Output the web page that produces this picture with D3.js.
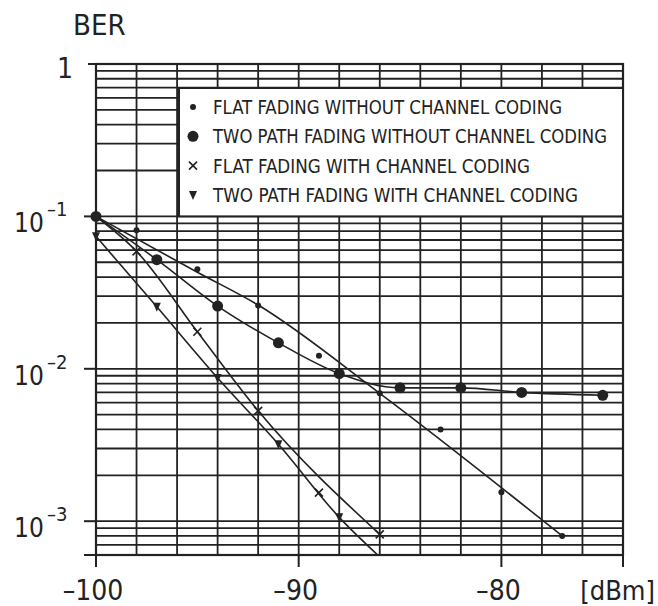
<!DOCTYPE html>
<html>
<head>
<meta charset="utf-8">
<script src="https://cdn.jsdelivr.net/npm/d3@7"></script>
<style>
  body { margin: 0; background: #fff; }
  text { font-family: "DejaVu Sans", sans-serif; font-stretch: condensed; fill: #222; }
</style>
</head>
<body>
<svg id="chart" width="658" height="606"></svg>
<script>
// received level [dBm] and BER (markers)
var flatX = [-98, -95, -92, -89, -86, -83, -80, -77];
var flatBer = [0.081, 0.045, 0.026, 0.0122, 0.0069, 0.0040, 0.00155, 0.0008];

var twoPathX = [-100, -97, -94, -91, -88, -85, -82, -79, -75];
var twoPathBer = [0.1, 0.052, 0.0258, 0.0148, 0.0093, 0.0075, 0.0075, 0.0070, 0.0067];

var flatCodedX = [-98, -95, -92, -89, -86];
var flatCodedBer = [0.059, 0.0175, 0.0053, 0.00154, 0.00082];

var twoPathCodedX = [-100, -97, -94, -91, -88];
var twoPathCodedBer = [0.074, 0.0255, 0.0087, 0.0032, 0.00106];

// hand drawn fit lines
var flatCurveX = [-100, -95, -92, -86, -77];
var flatCurveBer = [0.1, 0.043, 0.0262, 0.0069, 0.0008];
var flatCodedCurveX = [-100, -98, -95, -92, -86];
var flatCodedCurveBer = [0.1, 0.059, 0.0175, 0.0053, 0.00082];
var twoPathCodedCurveX = [-100, -97, -94, -91, -88, -86.1];
var twoPathCodedCurveBer = [0.074, 0.0255, 0.0087, 0.0032, 0.00106, 0.0006];

var legendLabels = [
  "FLAT FADING WITHOUT CHANNEL CODING",
  "TWO PATH FADING WITHOUT CHANNEL CODING",
  "FLAT FADING WITH CHANNEL CODING",
  "TWO PATH FADING WITH CHANNEL CODING"
];
var legendWidths = [349, 394, 317, 365];
var xTicks = [-100, -90, -80];
var yDecades = [-1, -2, -3];

var ink = "#222";
var x = d3.scaleLinear().domain([-100, -74]).range([96, 623]);
var y = d3.scaleLog().domain([6e-4, 1]).range([555, 64]);
var x0 = x(-100), x1 = x(-74), y0 = y(6e-4), y1 = y(1);

var svg = d3.select("#chart");

// grid
var yGrid = [];
[-4, -3, -2, -1].forEach(function(k) {
  for (var m = 1; m < 10; m++) {
    var v = m * Math.pow(10, k);
    if (v > 5.9e-4 && v < 0.99) yGrid.push(v);
  }
});
svg.append("g").selectAll("line").data(yGrid).enter().append("line")
  .attr("x1", x0).attr("x2", x1)
  .attr("y1", function(d) { return y(d); }).attr("y2", function(d) { return y(d); })
  .attr("stroke", ink).attr("stroke-width", 1.8);
svg.append("g").selectAll("line").data(d3.range(-98, -74, 2)).enter().append("line")
  .attr("y1", y0).attr("y2", y1)
  .attr("x1", function(d) { return x(d); }).attr("x2", function(d) { return x(d); })
  .attr("stroke", ink).attr("stroke-width", 1.8);

// frame and ticks
svg.append("rect").attr("x", x0).attr("y", y1).attr("width", x1 - x0).attr("height", y0 - y1)
  .attr("fill", "none").attr("stroke", ink).attr("stroke-width", 2.2);
svg.append("g").selectAll("line").data([1, 0.1, 0.01, 0.001, 6e-4]).enter().append("line")
  .attr("x1", function(d) { return d === 1 ? x0 - 8 : x0 - 12; }).attr("x2", x0)
  .attr("y1", function(d) { return y(d); }).attr("y2", function(d) { return y(d); })
  .attr("stroke", ink).attr("stroke-width", 2);
svg.append("g").selectAll("line").data(xTicks.concat([-74])).enter().append("line")
  .attr("x1", function(d) { return x(d); }).attr("x2", function(d) { return x(d); })
  .attr("y1", y0).attr("y2", y0 + 12)
  .attr("stroke", ink).attr("stroke-width", 2);

// axis labels
svg.append("text").attr("x", 73).attr("y", 35).style("font-size", "29px").text("BER");
svg.append("text").attr("x", 73).attr("y", y(1) + 14).attr("text-anchor", "end")
  .style("font-size", "28px").text("1");
yDecades.forEach(function(k) {
  var ty = y(Math.pow(10, k));
  svg.append("text").attr("x", 14).attr("y", ty + 16).style("font-size", "26px").text("10");
  svg.append("text").attr("x", 47).attr("y", ty).style("font-size", "20px").text("\u2013" + (-k));
});
svg.append("g").selectAll("text").data(xTicks).enter().append("text")
  .attr("x", function(d) { return x(d) - 3; }).attr("y", 600)
  .attr("text-anchor", "middle").style("font-size", "28px")
  .text(function(d) { return "\u2013" + (-d); });
svg.append("text").attr("x", 655).attr("y", 600).attr("text-anchor", "end")
  .style("font-size", "27px").text("[dBm]");

// curves
svg.append("clipPath").attr("id", "plot").append("rect")
  .attr("x", x0).attr("y", y1).attr("width", x1 - x0).attr("height", y0 - y1);
var line = d3.line().x(function(d) { return x(d[0]); }).y(function(d) { return y(d[1]); })
  .curve(d3.curveMonotoneX);
var curves = [
  d3.zip(flatCurveX, flatCurveBer),
  d3.zip(twoPathX, twoPathBer),
  d3.zip(flatCodedCurveX, flatCodedCurveBer),
  d3.zip(twoPathCodedCurveX, twoPathCodedCurveBer)
];
svg.append("g").attr("clip-path", "url(#plot)").selectAll("path").data(curves).enter().append("path")
  .attr("d", line).attr("fill", "none").attr("stroke", ink).attr("stroke-width", 1.6);

// markers
function marker(g, kind) {
  if (kind === 0) g.append("circle").attr("r", 3).attr("fill", ink);
  if (kind === 1) g.append("circle").attr("r", 5.5).attr("fill", ink);
  if (kind === 2) g.append("path").attr("d", "M-4,-4L4,4M-4,4L4,-4")
    .attr("stroke", ink).attr("stroke-width", 1.6).attr("fill", "none");
  if (kind === 3) g.append("path").attr("d", "M-4,-4L4,-4L0,5Z").attr("fill", ink);
}
var sets = [
  [flatCodedX, flatCodedBer, 2],
  [twoPathCodedX, twoPathCodedBer, 3],
  [flatX, flatBer, 0],
  [twoPathX, twoPathBer, 1]
];
sets.forEach(function(s) {
  d3.zip(s[0], s[1]).forEach(function(p) {
    var g = svg.append("g").attr("transform", "translate(" + x(p[0]) + "," + y(p[1]) + ")");
    marker(g, s[2]);
  });
});

// legend
var lg = svg.append("g");
lg.append("rect").attr("x", 179).attr("y", 88).attr("width", x1 - 179).attr("height", y(0.1) - 88)
  .attr("fill", "#fff").attr("stroke", ink).attr("stroke-width", 2);
legendLabels.forEach(function(t, i) {
  var by = 114 + i * 29.3;
  var g = lg.append("g").attr("transform", "translate(193," + (by - 7) + ")");
  marker(g, i);
  lg.append("text").attr("x", 213).attr("y", by).style("font-size", "20px")
    .attr("textLength", legendWidths[i]).attr("lengthAdjust", "spacingAndGlyphs").text(t);
});
</script>
</body>
</html>
